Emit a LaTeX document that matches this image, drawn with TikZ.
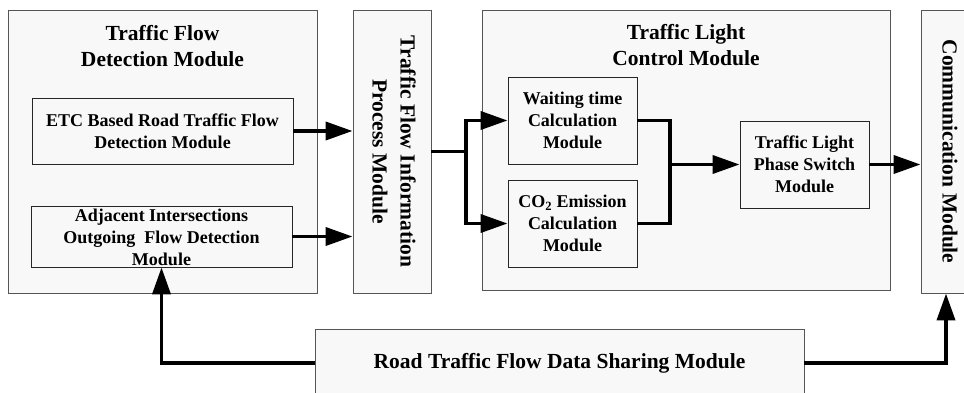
\documentclass[tikz,border=0pt]{standalone}
\usepackage{fontspec}
\setmainfont{Liberation Serif}
\usetikzlibrary{arrows.meta}
\definecolor{boxfill}{HTML}{F8F8F8}
\definecolor{boxline}{HTML}{555555}
\tikzset{
  outerbox/.style={draw=boxline, line width=0.9pt, fill=boxfill, inner sep=0pt},
  innerbox/.style={draw=black!85, line width=0.9pt, fill=boxfill, inner sep=0pt},
  titletext/.style={font=\bfseries\fontsize{21.5}{26}\selectfont, align=center, inner sep=0pt},
  bodytext/.style={font=\bfseries\fontsize{18}{22}\selectfont, align=center, inner sep=0pt},
  verttext/.style={font=\bfseries\fontsize{21.5}{28}\selectfont, align=center, inner sep=0pt, rotate=-90},
  conn/.style={line width=3.8pt, -{Triangle[length=27pt,width=18pt]}},
  plain/.style={line width=3.8pt}
}
\begin{document}
\begin{tikzpicture}[x=1pt,y=-1pt]
\useasboundingbox (0,0) rectangle (964,393);
\clip (0,0) rectangle (964,393);
% outer modules
\node[outerbox, minimum width=309pt, minimum height=283pt] (det) at (162.5,151.5) {};
\node[outerbox, minimum width=78pt, minimum height=283pt] (proc) at (392,151.5) {};
\node[outerbox, minimum width=408pt, minimum height=280pt] (tlc) at (686,150) {};
\node[outerbox, minimum width=54pt, minimum height=283pt] (comm) at (948,151.5) {};
\node[outerbox, minimum width=489pt, minimum height=68pt] (road) at (559.5,363) {};
% titles
\node[titletext] (dett) at (162.5,46) {Traffic Flow\\Detection Module};
\node[titletext] (tlct) at (686,45) {Traffic Light\\Control Module};
\node[verttext] (proct) at (394,151.5) {Traffic Flow Information\\Process Module};
\node[verttext] (commt) at (950,151.5) {Communication Module};
\node[titletext] (roadt) at (559.5,363) {Road Traffic Flow Data Sharing Module};
% inner modules
\node[innerbox, minimum width=261pt, minimum height=66pt] (etc) at (162.5,131) {};
\node[bodytext] (etct) at (etc.center) {ETC Based Road Traffic Flow\\Detection Module};
\node[innerbox, minimum width=261pt, minimum height=61pt] (adj) at (161.5,236.5) {};
\node[bodytext] (adjt) at ([yshift=-1pt]adj.center) {Adjacent Intersections\\Outgoing~ Flow Detection\\Module};
\node[innerbox, minimum width=129pt, minimum height=87pt] (wait) at (572.5,120.5) {};
\node[bodytext] (waitt) at (wait.center) {Waiting time\\Calculation\\Module};
\node[innerbox, minimum width=129pt, minimum height=87pt] (co2) at (572.5,223.5) {};
\node[bodytext] (co2t) at (co2.center) {CO\textsubscript{2} Emission\\Calculation\\Module};
\node[innerbox, minimum width=129pt, minimum height=87pt] (phase) at (804.5,164.5) {};
\node[bodytext] (phaset) at (phase.center) {Traffic Light\\Phase Switch\\Module};
% junction points
\coordinate (split) at (466,151.5);
\coordinate (merge) at (670,164.5);
% connectors
\draw[conn] (etc.east) -- (etc.east -| proc.west);
\draw[conn] (adj.east) -- (adj.east -| proc.west);
\draw[plain] (proc.east |- split) -- (split);
\draw[conn] (split) |- (wait.west);
\draw[conn] (split) |- (co2.west);
\draw[plain] (wait.east) -| (merge);
\draw[plain] (co2.east) -| (merge);
\draw[conn] (merge) -- (phase.west);
\draw[conn] (phase.east) -- (phase.east -| comm.west);
\draw[conn] (road.west) -| (adj.south);
\draw[conn] (road.east) -| ([xshift=-2pt]comm.south);
\end{tikzpicture}
\end{document}
